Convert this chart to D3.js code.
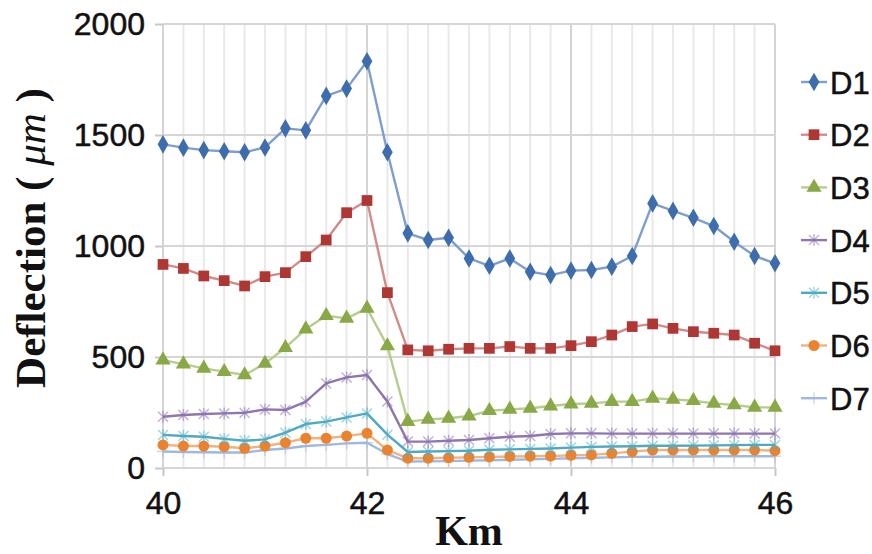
<!DOCTYPE html>
<html>
<head>
<meta charset="utf-8">
<script src="https://cdn.jsdelivr.net/npm/d3@7"></script>
<style>
  html, body { margin: 0; padding: 0; background: #fff; }
  svg { display: block; }
</style>
</head>
<body>
<svg id="chart" width="872" height="554"></svg>
<script>
// Chainage along the road (km), one reading every 0.2 km
const km = [40.0, 40.2, 40.4, 40.6, 40.8, 41.0, 41.2, 41.4, 41.6, 41.8, 42.0,
            42.2, 42.4, 42.6, 42.8, 43.0, 43.2, 43.4, 43.6, 43.8, 44.0,
            44.2, 44.4, 44.6, 44.8, 45.0, 45.2, 45.4, 45.6, 45.8, 46.0];

// Deflection readings (μm) for each sensor
const D1 = [1458, 1443, 1432, 1427, 1422, 1444, 1530, 1521, 1676, 1709, 1832,
            1422, 1057, 1027, 1037, 944, 911, 944, 884, 869, 889,
            892, 907, 955, 1192, 1158, 1127, 1090, 1019, 955, 922];
const D2 = [917, 899, 865, 844, 820, 862, 880, 952, 1027, 1150, 1205,
            790, 532, 528, 535, 539, 539, 547, 539, 539, 551,
            569, 599, 637, 649, 629, 614, 607, 599, 562, 528];
const D3 = [486, 468, 449, 434, 419, 471, 542, 626, 686, 674, 719,
            550, 209, 219, 224, 234, 258, 264, 269, 279, 288,
            291, 299, 299, 314, 309, 303, 291, 284, 273, 273];
const D4 = [231, 239, 243, 246, 249, 264, 261, 299, 381, 408, 419,
            300, 119, 119, 123, 126, 134, 141, 144, 153, 156,
            156, 155, 155, 155, 155, 155, 155, 155, 155, 155];
const D5 = [149, 144, 141, 131, 123, 129, 159, 198, 209, 228, 246,
            150, 72, 74, 76, 78, 82, 84, 86, 88, 92,
            95, 97, 98, 100, 100, 101, 102, 103, 104, 104];
const D6 = [104, 99, 99, 96, 89, 99, 114, 134, 134, 144, 156,
            81, 44, 44, 46, 48, 50, 52, 53, 54, 57,
            59, 66, 74, 81, 81, 81, 81, 81, 81, 78];
const D7 = [74, 72, 71, 70, 70, 81, 88, 99, 104, 111, 114,
            63, 29, 30, 31, 33, 35, 37, 39, 41, 44,
            46, 48, 50, 51, 52, 52, 53, 53, 53, 53];

const seriesNames = ["D1", "D2", "D3", "D4", "D5", "D6", "D7"];
const seriesValues = [D1, D2, D3, D4, D5, D6, D7];

const yTicks = [0, 500, 1000, 1500, 2000];
const xTicks = [40, 42, 44, 46];

// Appearance of each series: colour, marker shape
const styles = [
  { color: "#3E6DAE", line: "#7E9ECF", marker: "diamond" },
  { color: "#AE3633", line: "#D08C8A", marker: "square" },
  { color: "#88A945", line: "#B7CD8E", marker: "triangle" },
  { color: "#8A6FAE", line: "#8E76B0", marker: "x" },
  { color: "#4FAFC9", line: "#4DAAC4", marker: "star" },
  { color: "#E9832F", line: "#F2B27F", marker: "circle" },
  { color: "#9FB6DC", line: "#9FB8E0", marker: "plus" }
];

const svg = d3.select("#chart");
const plot = { left: 163, right: 775, top: 24, bottom: 468 };

const x = d3.scaleLinear().domain([40, 46]).range([plot.left, plot.right]);
const y = d3.scaleLinear().domain([0, 2000]).range([plot.bottom, plot.top]);

// Vertical grid: a line at every reading, darker at each labelled km
const g = svg.append("g");
km.forEach(k => {
  const major = xTicks.some(t => Math.abs(t - k) < 1e-6);
  g.append("line")
    .attr("x1", x(k)).attr("x2", x(k))
    .attr("y1", plot.top).attr("y2", plot.bottom)
    .attr("stroke", major ? "#d4d4d4" : "#e9e9e9")
    .attr("stroke-width", 2);
});
// Horizontal grid
yTicks.forEach(t => {
  g.append("line")
    .attr("x1", plot.left).attr("x2", plot.right)
    .attr("y1", y(t)).attr("y2", y(t))
    .attr("stroke", "#d6d6d6")
    .attr("stroke-width", 2);
});

// Y axis: short ticks and labels
const yAxis = d3.axisLeft(y).tickValues(yTicks).tickSize(8).tickPadding(10).tickFormat(d3.format("d"));
const ya = svg.append("g").attr("transform", `translate(${plot.left},0)`).call(yAxis);
ya.select(".domain").remove();
ya.selectAll(".tick line").attr("stroke", "#c8c8c8").attr("stroke-width", 2);
ya.selectAll(".tick text")
  .attr("font-family", "'Liberation Sans', Arial, sans-serif")
  .attr("font-size", 32)
  .attr("fill", "#111")
  .attr("stroke", "#111").attr("stroke-width", 0.5);

// X axis
const xAxis = d3.axisBottom(x).tickValues(xTicks).tickSize(8).tickPadding(15).tickFormat(d3.format("d"));
const xa = svg.append("g").attr("transform", `translate(0,${plot.bottom})`).call(xAxis);
xa.select(".domain").remove();
xa.selectAll(".tick line").attr("stroke", "#c8c8c8").attr("stroke-width", 2);
xa.selectAll(".tick text")
  .attr("font-family", "'Liberation Sans', Arial, sans-serif")
  .attr("font-size", 32)
  .attr("fill", "#111")
  .attr("stroke", "#111").attr("stroke-width", 0.5);

// Axis titles
svg.append("text")
  .attr("x", (plot.left + plot.right) / 2)
  .attr("y", 545)
  .attr("text-anchor", "middle")
  .attr("font-family", "'Liberation Serif', 'Times New Roman', serif")
  .attr("font-weight", "bold")
  .attr("font-size", 42)
  .attr("fill", "#111")
  .text("Km");

const yTitle = svg.append("text")
  .attr("transform", "translate(45,238) rotate(-90)")
  .attr("text-anchor", "middle")
  .attr("font-family", "'Liberation Serif', 'Times New Roman', serif")
  .attr("font-weight", "bold")
  .attr("font-size", 43)
  .attr("fill", "#111");
yTitle.append("tspan").text("Deflection ( ");
yTitle.append("tspan").attr("font-style", "italic").attr("font-weight", "normal").text("μm");
yTitle.append("tspan").text(" )");

// Marker drawing
function drawMarker(sel, type, color) {
  const sym = {
    diamond: [d3.symbolDiamond, 100],
    square: [d3.symbolSquare, 115],
    triangle: [d3.symbolTriangle, 100],
    circle: [d3.symbolCircle, 95]
  };
  if (sym[type]) {
    sel.append("path")
      .attr("d", d3.symbol().type(sym[type][0]).size(sym[type][1])())
      .attr("fill", color);
  } else {
    const r = 5;
    let d = "";
    if (type === "x" || type === "star") d += `M${-r},${-r}L${r},${r}M${-r},${r}L${r},${-r}`;
    if (type === "star" || type === "x") d += `M0,${-r - 1}L0,${r + 1}`;
    if (type === "plus") d += `M${-r - 1},0L${r + 1},0M0,${-r - 1}L0,${r + 1}`;
    sel.append("path")
      .attr("d", d)
      .attr("fill", "none")
      .attr("stroke", color)
      .attr("stroke-opacity", 0.55)
      .attr("stroke-width", 1.4);
  }
}

const line = d3.line().x((d, i) => x(km[i])).y(d => y(d));

// Draw last series first so D1 sits on top
for (let s = seriesValues.length - 1; s >= 0; s--) {
  const vals = seriesValues[s];
  const st = styles[s];
  const gs = svg.append("g");
  gs.append("path")
    .attr("d", line(vals))
    .attr("fill", "none")
    .attr("stroke", st.line)
    .attr("stroke-width", 2.4)
    .attr("stroke-linejoin", "round");
  vals.forEach((v, i) => {
    const m = gs.append("g").attr("transform", `translate(${x(km[i])},${y(v)})`);
    drawMarker(m, st.marker, st.color);
  });
}

// Legend
const legend = svg.append("g");
seriesNames.forEach((name, i) => {
  const cy = 82 + i * 52.7;
  const st = styles[i];
  const item = legend.append("g");
  item.append("line")
    .attr("x1", 801).attr("x2", 827)
    .attr("y1", cy).attr("y2", cy)
    .attr("stroke", st.line)
    .attr("stroke-width", 2.4);
  const m = item.append("g").attr("transform", `translate(814,${cy})`);
  drawMarker(m, st.marker, st.color);
  item.append("text")
    .attr("x", 830)
    .attr("y", cy + 11.5)
    .attr("font-family", "'Liberation Sans', Arial, sans-serif")
    .attr("font-size", 31)
    .attr("fill", "#111")
    .attr("stroke", "#111").attr("stroke-width", 0.5)
    .text(name);
});
</script>
</body>
</html>
